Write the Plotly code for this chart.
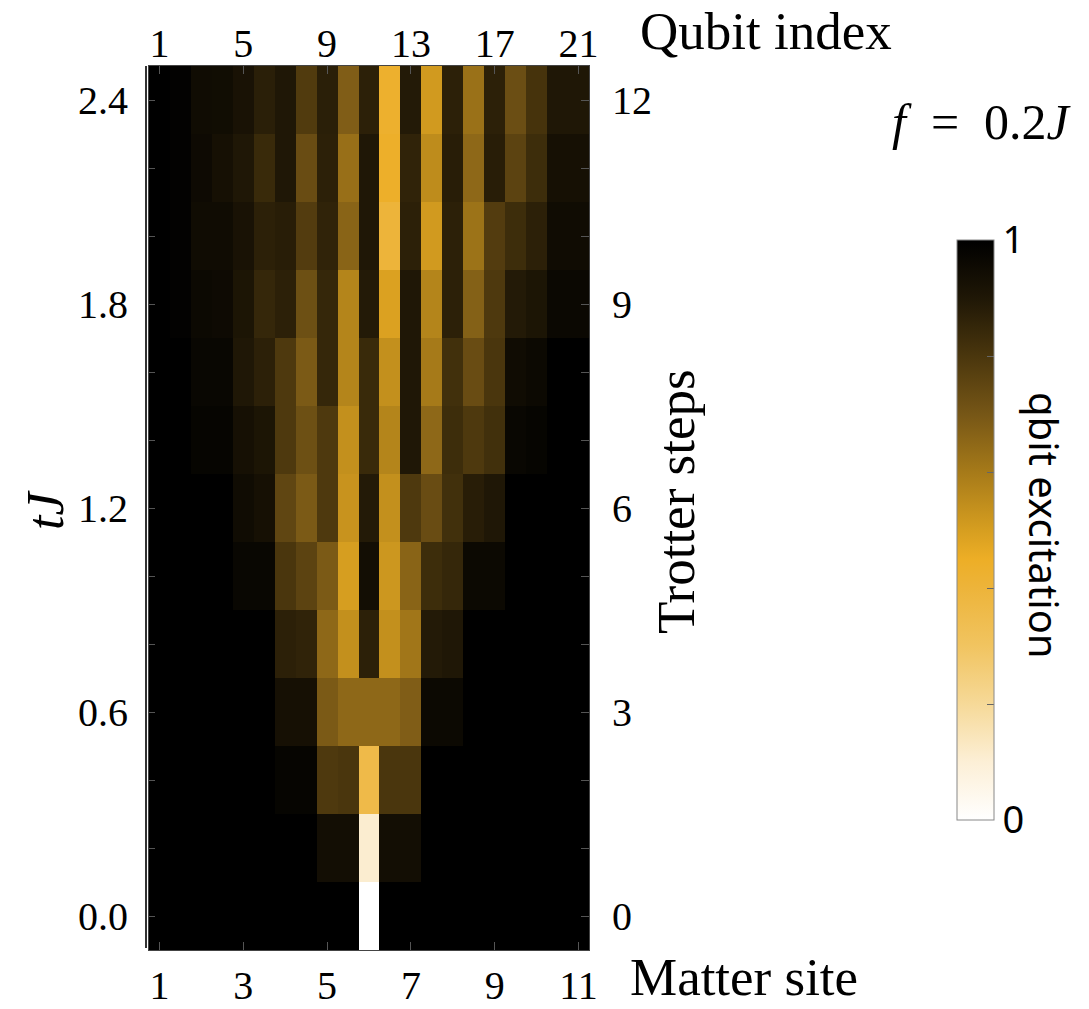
import plotly.graph_objects as go

# ---- data ----
qubit_index = list(range(1, 22))
trotter_steps = list(range(0, 13))

step_00 = [1, 1, 1, 1, 1, 1, 1, 1, 1, 1, 0.00, 1, 1, 1, 1, 1, 1, 1, 1, 1, 1]
step_01 = [1, 1, 1, 1, 1, 1, 1, 1, 0.94, 0.94, 0.11, 0.94, 0.94, 1, 1, 1, 1, 1, 1, 1, 1]
step_02 = [1, 1, 1, 1, 1, 1, 0.98, 0.98, 0.79, 0.80, 0.36, 0.80, 0.80, 1, 1, 1, 1, 1, 1, 1, 1]
step_03 = [1, 1, 1, 1, 1, 1, 0.93, 0.93, 0.69, 0.65, 0.65, 0.65, 0.68, 0.96, 0.96, 1, 1, 1, 1, 1, 1]
step_04 = [1, 1, 1, 1, 1, 1, 0.87, 0.86, 0.65, 0.54, 0.87, 0.54, 0.61, 0.89, 0.90, 1, 1, 1, 1, 1, 1]
step_05 = [1, 1, 1, 1, 0.97, 0.97, 0.80, 0.76, 0.69, 0.50, 0.94, 0.52, 0.66, 0.83, 0.85, 0.96, 0.96, 1, 1, 1, 1]
step_06 = [1, 1, 1, 1, 0.95, 0.93, 0.75, 0.69, 0.79, 0.53, 0.89, 0.54, 0.79, 0.73, 0.82, 0.88, 0.90, 1, 1, 1, 1]
step_07 = [1, 1, 0.98, 0.98, 0.93, 0.91, 0.79, 0.72, 0.79, 0.54, 0.84, 0.57, 0.90, 0.65, 0.83, 0.79, 0.82, 0.97, 0.98, 1, 1]
step_08 = [1, 1, 0.97, 0.97, 0.90, 0.87, 0.79, 0.69, 0.85, 0.57, 0.84, 0.54, 0.90, 0.60, 0.82, 0.73, 0.80, 0.95, 0.96, 1, 1]
step_09 = [1, 0.99, 0.96, 0.955, 0.91, 0.85, 0.87, 0.72, 0.85, 0.57, 0.89, 0.49, 0.90, 0.57, 0.87, 0.67, 0.79, 0.89, 0.91, 0.965, 0.965]
step_10 = [1, 0.99, 0.95, 0.95, 0.92, 0.87, 0.88, 0.78, 0.86, 0.66, 0.90, 0.40, 0.87, 0.51, 0.87, 0.62, 0.78, 0.83, 0.87, 0.95, 0.95]
step_11 = [1, 0.99, 0.955, 0.93, 0.90, 0.84, 0.90, 0.73, 0.87, 0.63, 0.90, 0.44, 0.86, 0.55, 0.88, 0.65, 0.88, 0.76, 0.83, 0.93, 0.93]
step_12 = [1, 0.99, 0.95, 0.945, 0.92, 0.875, 0.90, 0.785, 0.875, 0.68, 0.87, 0.43, 0.89, 0.51, 0.87, 0.625, 0.87, 0.725, 0.81, 0.90, 0.90]

z = [step_00, step_01, step_02, step_03, step_04, step_05, step_06,
     step_07, step_08, step_09, step_10, step_11, step_12]

top_tick_qubits = [1, 5, 9, 13, 17, 21]
bottom_tick_labels = ["1", "3", "5", "7", "9", "11"]
top_tick_labels = ["1", "5", "9", "13", "17", "21"]
left_tick_labels = ["0.0", "0.6", "1.2", "1.8", "2.4"]
right_tick_labels = ["0", "3", "6", "9", "12"]
labeled_steps = [0, 3, 6, 9, 12]

colorscale = [
    [0.00, "#FFFFFF"],
    [0.10, "#FCEFD6"],
    [0.20, "#F6D998"],
    [0.30, "#F1C460"],
    [0.40, "#EDB43A"],
    [0.45, "#EDAE26"],
    [0.50, "#D69E20"],
    [0.60, "#A67A19"],
    [0.70, "#765616"],
    [0.80, "#4A360D"],
    [0.90, "#1F1706"],
    [1.00, "#000000"],
]

SERIF = "Liberation Serif"
SANS = "Noto Sans"

W, H = 1089, 1009
L, R, T, B = 149, 500, 66, 59
PW, PH = W - L - R, H - T - B


def px(xpix):
    return (xpix - L) / PW


def py(ypix):
    return 1 - (ypix - T) / PH


fig = go.Figure()
fig.add_trace(go.Heatmap(
    x=qubit_index, y=trotter_steps, z=z,
    zmin=0, zmax=1, colorscale=colorscale,
    colorbar=dict(
        x=px(957), xanchor="left",
        y=py(530), yanchor="middle",
        thickness=37, thicknessmode="pixels",
        len=580, lenmode="pixels",
        outlinecolor="#888888", outlinewidth=1,
        tickmode="array", tickvals=[0, 0.2, 0.4, 0.6, 0.8, 1],
        ticktext=["0", "", "", "", "", "1"],
        ticks="inside", ticklen=7, tickcolor="#666666",
        tickfont=dict(family=SANS, size=38, color="black"),
        xpad=0, ypad=0,
    ),
    hoverinfo="skip",
))
fig.add_trace(go.Scatter(x=[None], y=[None], xaxis="x2", yaxis="y2",
                         showlegend=False, hoverinfo="skip"))

step_ticktext = [left_tick_labels[labeled_steps.index(s)] if s in labeled_steps else "" for s in trotter_steps]
step_ticktext_r = [right_tick_labels[labeled_steps.index(s)] if s in labeled_steps else "" for s in trotter_steps]

tickfont = dict(family=SERIF, size=40, color="black")
common = dict(ticks="inside", tickwidth=1, tickcolor="#555555",
              showgrid=False, zeroline=False, showline=True, automargin=False,
              linecolor="#444444", linewidth=1, tickfont=tickfont)

fig.update_layout(
    width=W, height=H,
    margin=dict(l=L, r=R, t=T, b=B, pad=0, autoexpand=False),
    paper_bgcolor="white", plot_bgcolor="black",
    showlegend=False,
    xaxis=dict(range=[0.5, 21.5], tickmode="array", tickvals=top_tick_qubits,
               ticktext=bottom_tick_labels, side="bottom", ticklabelstandoff=0,
               ticklen=8, **common),
    xaxis2=dict(range=[0.5, 21.5], tickmode="array", tickvals=top_tick_qubits,
                ticktext=top_tick_labels, side="top", overlaying="x", anchor="y",
                ticklabelstandoff=-8, ticklen=8, **common),
    yaxis=dict(range=[-0.5, 12.5], tickmode="array", tickvals=trotter_steps,
               ticktext=step_ticktext, side="left", ticklabelstandoff=12,
               ticklen=6, **common),
    yaxis2=dict(range=[-0.5, 12.5], tickmode="array", tickvals=trotter_steps,
                ticktext=step_ticktext_r, side="right", overlaying="y", anchor="x",
                ticklabelstandoff=14, ticklen=8, **common),
)

# left frame double line
fig.add_shape(type="line", xref="paper", yref="paper",
              x0=px(146), x1=px(146), y0=py(948), y1=1.0,
              line=dict(color="#333333", width=2))

ann_font = dict(family=SERIF, size=53, color="black")
fig.add_annotation(text="Qubit index", xref="paper", yref="paper",
                   x=px(638), y=py(31),
                   xanchor="left", yanchor="middle", showarrow=False, font=ann_font)
fig.add_annotation(text="Matter site", xref="paper", yref="paper",
                   x=px(628), y=py(1008), height=62,
                   xanchor="left", yanchor="bottom", valign="bottom",
                   showarrow=False, font=ann_font)
fig.add_annotation(text="Trotter steps", xref="paper", yref="paper",
                   x=px(676), y=py(502),
                   xanchor="center", yanchor="middle", textangle=-90,
                   showarrow=False, font=ann_font)
fig.add_annotation(text="<i>tJ</i>", xref="paper", yref="paper",
                   x=px(45), y=py(510),
                   xanchor="center", yanchor="middle", textangle=-90,
                   showarrow=False, font=dict(family=SERIF, size=52, color="black"))
fig.add_annotation(text="<i>f</i>&nbsp; =&nbsp; 0.2<i>J</i>", xref="paper", yref="paper",
                   x=px(982), y=py(122),
                   xanchor="center", yanchor="middle",
                   showarrow=False, font=dict(family=SERIF, size=50, color="black"))
fig.add_annotation(text="qbit excitation", xref="paper", yref="paper",
                   x=px(1045), y=py(525),
                   xanchor="center", yanchor="middle", textangle=90,
                   showarrow=False, font=dict(family=SANS, size=40, color="black"))

fig.write_html("out.html")
